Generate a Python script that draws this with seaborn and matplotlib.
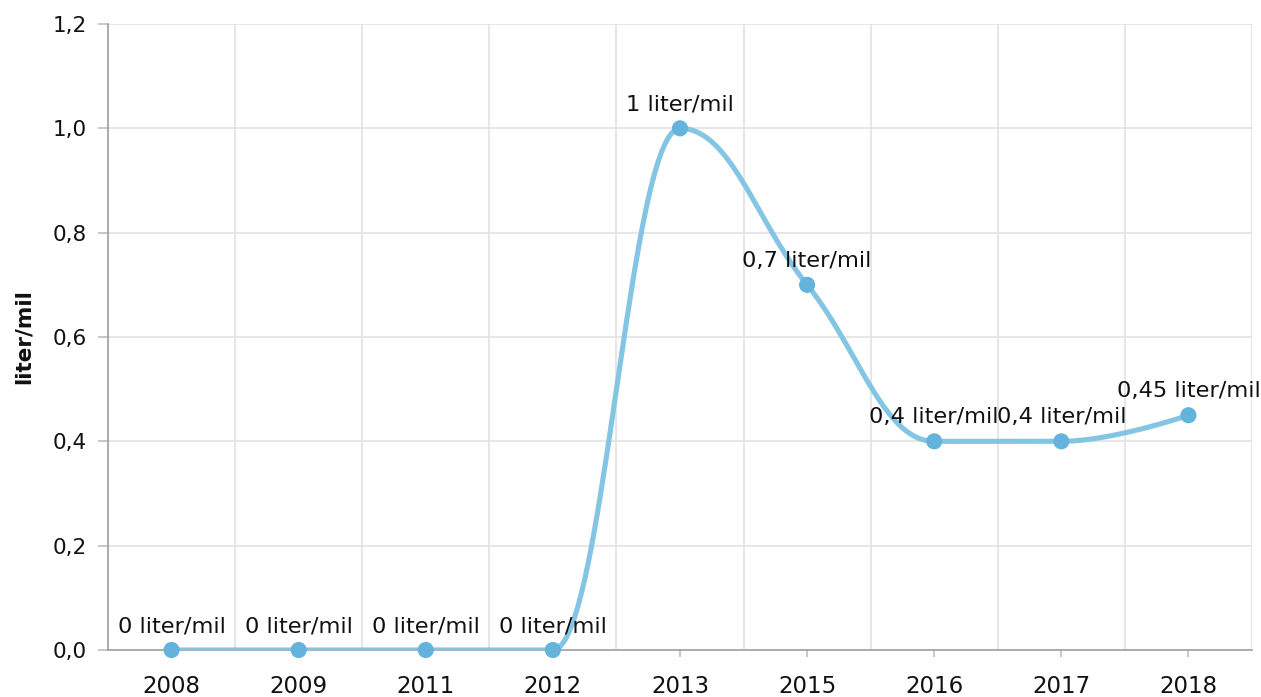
import numpy as np
import pandas as pd
import matplotlib
matplotlib.use("Agg")
import matplotlib.pyplot as plt
import seaborn as sns

# data
years = ["2008", "2009", "2011", "2012", "2013", "2015", "2016", "2017", "2018"]
values = [0, 0, 0, 0, 1.0, 0.7, 0.4, 0.4, 0.45]
labels = ["0 liter/mil", "0 liter/mil", "0 liter/mil", "0 liter/mil", "1 liter/mil",
          "0,7 liter/mil", "0,4 liter/mil", "0,4 liter/mil", "0,45 liter/mil"]

LINE = "#84c5e4"
DOT = "#63b3dc"


def spline(xs, ys, n=40):
    """Smoothed path: bezier segments, control points at 0.4 of the gap,
    flattened where they would create a false extreme."""
    xs = np.asarray(xs, float)
    ys = np.asarray(ys, float)
    k = len(xs)
    left = []
    right = []
    for i in range(k):
        if i == 0 or i == k - 1:
            left.append((xs[i], ys[i]))
            right.append((xs[i], ys[i]))
            continue
        x, y = xs[i], ys[i]
        lx, ly = xs[i - 1], ys[i - 1]
        nx, ny = xs[i + 1], ys[i + 1]
        lcx = (1.5 * x + lx) / 2.5
        lcy = (1.5 * y + ly) / 2.5
        rcx = (1.5 * x + nx) / 2.5
        rcy = (1.5 * y + ny) / 2.5
        corr = ((rcy - lcy) * (rcx - x)) / (rcx - lcx) + y - rcy
        lcy += corr
        rcy += corr
        if lcy > ly and lcy > y:
            lcy = max(ly, y)
            rcy = 2 * y - lcy
        elif lcy < ly and lcy < y:
            lcy = min(ly, y)
            rcy = 2 * y - lcy
        if rcy > ny and rcy > y:
            rcy = max(ny, y)
            lcy = 2 * y - rcy
        elif rcy < ny and rcy < y:
            rcy = min(ny, y)
            lcy = 2 * y - rcy
        left.append((lcx, lcy))
        right.append((rcx, rcy))
    px, py = [], []
    t = np.linspace(0, 1, n)
    for i in range(k - 1):
        p0 = np.array([xs[i], ys[i]])
        p1 = np.array(right[i])
        p2 = np.array(left[i + 1])
        p3 = np.array([xs[i + 1], ys[i + 1]])
        b = ((1 - t) ** 3)[:, None] * p0 + (3 * (1 - t) ** 2 * t)[:, None] * p1 \
            + (3 * (1 - t) * t ** 2)[:, None] * p2 + (t ** 3)[:, None] * p3
        px.extend(b[:, 0])
        py.extend(b[:, 1])
    return np.array(px), np.array(py)


sns.set_theme(style="white")
plt.rcParams["font.family"] = ["DejaVu Sans"]

fig = plt.figure(figsize=(12.61, 6.97), dpi=100)
ax = fig.add_axes([108 / 1261, 47 / 697, 1144 / 1261, 626 / 697])

pos = np.arange(len(years))
cx, cy = spline(pos, values)
curve = pd.DataFrame({"x": cx, "y": cy})
sns.lineplot(data=curve, x="x", y="y", sort=False, estimator=None,
             ax=ax, color=LINE, linewidth=3.7, solid_capstyle="round", zorder=3)
pts = pd.DataFrame({"x": pos, "y": values})
sns.scatterplot(data=pts, x="x", y="y", ax=ax, color=DOT, s=135,
                edgecolor="none", zorder=4, clip_on=False)

for x, y, t in zip(pos, values, labels):
    ax.annotate(t, (x, y), xytext=(0, 10), textcoords="offset points",
                ha="center", va="bottom", fontsize=16.2, color="#111111", zorder=5)

ax.set_xlim(-0.5, len(years) - 0.5)
ax.set_ylim(0, 1.2)
ax.set_yticks(np.arange(0, 1.21, 0.2))
ax.set_yticklabels([f"{v:.1f}".replace(".", ",") for v in np.arange(0, 1.21, 0.2)])
ax.set_xticks(pos)
ax.set_xticklabels(years)
ax.set_xticks(np.arange(-0.5, len(years), 1), minor=True)

ax.grid(True, axis="y", color="#e2e2e2", linewidth=1.2)
ax.grid(True, axis="x", which="minor", color="#e2e2e2", linewidth=1.2)
ax.grid(False, axis="x", which="major")
ax.set_axisbelow(True)

for s in ["top", "right"]:
    ax.spines[s].set_visible(False)
ax.spines["left"].set_color("#a0a0a0")
ax.spines["bottom"].set_color("#a0a0a0")
ax.spines["left"].set_linewidth(1.2)
ax.spines["bottom"].set_linewidth(1.2)

ax.tick_params(axis="y", which="major", left=True, length=7, width=1.2,
               color="#bdbdbd", labelsize=15.5, labelcolor="#111111", pad=8)
ax.tick_params(axis="x", which="major", bottom=True, length=5, width=1.2,
               color="#bdbdbd", labelsize=16.5, labelcolor="#111111", pad=13)
ax.tick_params(axis="x", which="minor", bottom=False)

ax.set_xlabel("")
ax.set_ylabel("liter/mil", fontsize=15.5, fontweight="bold", color="#111111", labelpad=14)
for sp in ax.spines.values():
    sp.set_zorder(2)

fig.savefig("out.png", dpi=100)
